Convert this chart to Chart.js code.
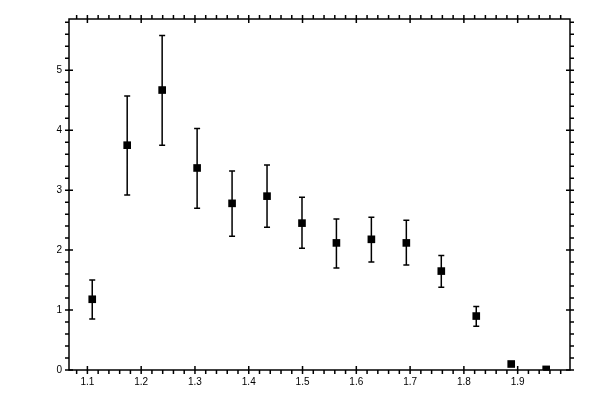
<!DOCTYPE html>
<html lang="en">
<head>
  <meta charset="UTF-8">
  <title>Error bar chart</title>
  <script src="https://cdn.jsdelivr.net/npm/chart.js@4.4.1/dist/chart.umd.min.js"></script>
  <style>
    html, body { margin: 0; padding: 0; background: #fff; }
    #wrap { width: 600px; height: 400px; }
  </style>
</head>
<body>
  <div id="wrap"><canvas id="errChart"></canvas></div>
  <script>
    // values
    const xValues = [1.109, 1.174, 1.239, 1.304, 1.369, 1.434, 1.499, 1.563, 1.628, 1.693, 1.758, 1.823, 1.888, 1.953];
    const yValues = [1.18, 3.75, 4.67, 3.37, 2.78, 2.90, 2.45, 2.12, 2.18, 2.12, 1.65, 0.90, 0.10, 0.01];
    const yHigh   = [1.50, 4.57, 5.58, 4.03, 3.32, 3.42, 2.88, 2.52, 2.55, 2.50, 1.91, 1.06, 0.12, 0.02];
    const yLow    = [0.85, 2.92, 3.75, 2.70, 2.23, 2.38, 2.03, 1.70, 1.80, 1.75, 1.38, 0.73, 0.08, 0.00];

    const xTicks = [1.1, 1.2, 1.3, 1.4, 1.5, 1.6, 1.7, 1.8, 1.9];
    const yTicks = [0, 1, 2, 3, 4, 5];
    const xMinorStep = 0.02;
    const yMinorStep = 0.2;

    const points = xValues.map((x, i) => ({ x: x, y: yValues[i] }));

    // error bars, frame and tick marks on all four sides
    const frameAndErrors = {
      id: 'frameAndErrors',
      beforeDatasetsDraw(chart) {
        const ctx = chart.ctx;
        const xs = chart.scales.x, ys = chart.scales.y;
        ctx.save();
        ctx.strokeStyle = '#000';
        ctx.lineWidth = 1.5;
        ctx.beginPath();
        for (let i = 0; i < xValues.length; i++) {
          const px = xs.getPixelForValue(xValues[i]);
          const top = ys.getPixelForValue(yHigh[i]);
          const bot = ys.getPixelForValue(yLow[i]);
          ctx.moveTo(px, top); ctx.lineTo(px, bot);
          ctx.moveTo(px - 3, top); ctx.lineTo(px + 3, top);
          ctx.moveTo(px - 3, bot); ctx.lineTo(px + 3, bot);
        }
        ctx.stroke();
        ctx.restore();
      },
      afterDraw(chart) {
        const ctx = chart.ctx;
        const a = chart.chartArea;
        const xs = chart.scales.x, ys = chart.scales.y;
        ctx.save();
        ctx.strokeStyle = '#000';
        ctx.lineWidth = 1.5;
        ctx.strokeRect(a.left, a.top, a.right - a.left, a.bottom - a.top);
        ctx.beginPath();
        // minor ticks, outward
        for (let v = Math.ceil(xs.min / xMinorStep) * xMinorStep; v <= xs.max + 1e-9; v += xMinorStep) {
          const px = xs.getPixelForValue(v);
          ctx.moveTo(px, a.bottom); ctx.lineTo(px, a.bottom + 4);
          ctx.moveTo(px, a.top); ctx.lineTo(px, a.top - 4);
        }
        for (let v = 0; v <= ys.max + 1e-9; v += yMinorStep) {
          const py = ys.getPixelForValue(v);
          ctx.moveTo(a.left, py); ctx.lineTo(a.left - 4, py);
          ctx.moveTo(a.right, py); ctx.lineTo(a.right + 4, py);
        }
        // major ticks, crossing the frame
        xTicks.forEach(v => {
          const px = xs.getPixelForValue(v);
          ctx.moveTo(px, a.bottom - 4); ctx.lineTo(px, a.bottom + 4);
          ctx.moveTo(px, a.top - 4); ctx.lineTo(px, a.top + 4);
        });
        yTicks.forEach(v => {
          const py = ys.getPixelForValue(v);
          ctx.moveTo(a.left - 4, py); ctx.lineTo(a.left + 4, py);
          ctx.moveTo(a.right - 4, py); ctx.lineTo(a.right + 4, py);
        });
        ctx.stroke();
        ctx.restore();
      }
    };

    const ctx = document.getElementById('errChart').getContext('2d');
    const chart = new Chart(ctx, {
      type: 'scatter',
      data: {
        datasets: [{
          data: points,
          pointStyle: 'rect',
          pointRadius: 5.4,
          pointHoverRadius: 5.4,
          backgroundColor: '#000',
          borderColor: '#000',
          borderWidth: 0
        }]
      },
      options: {
        responsive: true,
        maintainAspectRatio: false,
        animation: false,
        layout: { padding: { left: 0, right: 30, top: 19, bottom: 0 } },
        plugins: { legend: { display: false }, tooltip: { enabled: false } },
        scales: {
          x: {
            type: 'linear',
            min: 1.0658,
            max: 1.9973,
            grid: { display: false, drawTicks: false },
            border: { display: false },
            afterBuildTicks: s => { s.ticks = xTicks.map(v => ({ value: v })); },
            afterFit: s => { s.height = 30; },
            ticks: {
              color: '#000',
              padding: 6,
              maxRotation: 0,
              autoSkip: false,
              font: { family: 'Liberation Sans', size: 10 },
              callback: v => v.toFixed(1)
            }
          },
          y: {
            min: 0,
            max: 5.855,
            grid: { display: false, drawTicks: false },
            border: { display: false },
            afterBuildTicks: s => { s.ticks = yTicks.map(v => ({ value: v })); },
            afterFit: s => { s.width = 69; },
            ticks: {
              color: '#000',
              padding: 7,
              autoSkip: false,
              font: { family: 'Liberation Sans', size: 10 },
              callback: v => String(v)
            }
          }
        }
      },
      plugins: [frameAndErrors]
    });
  </script>
</body>
</html>
